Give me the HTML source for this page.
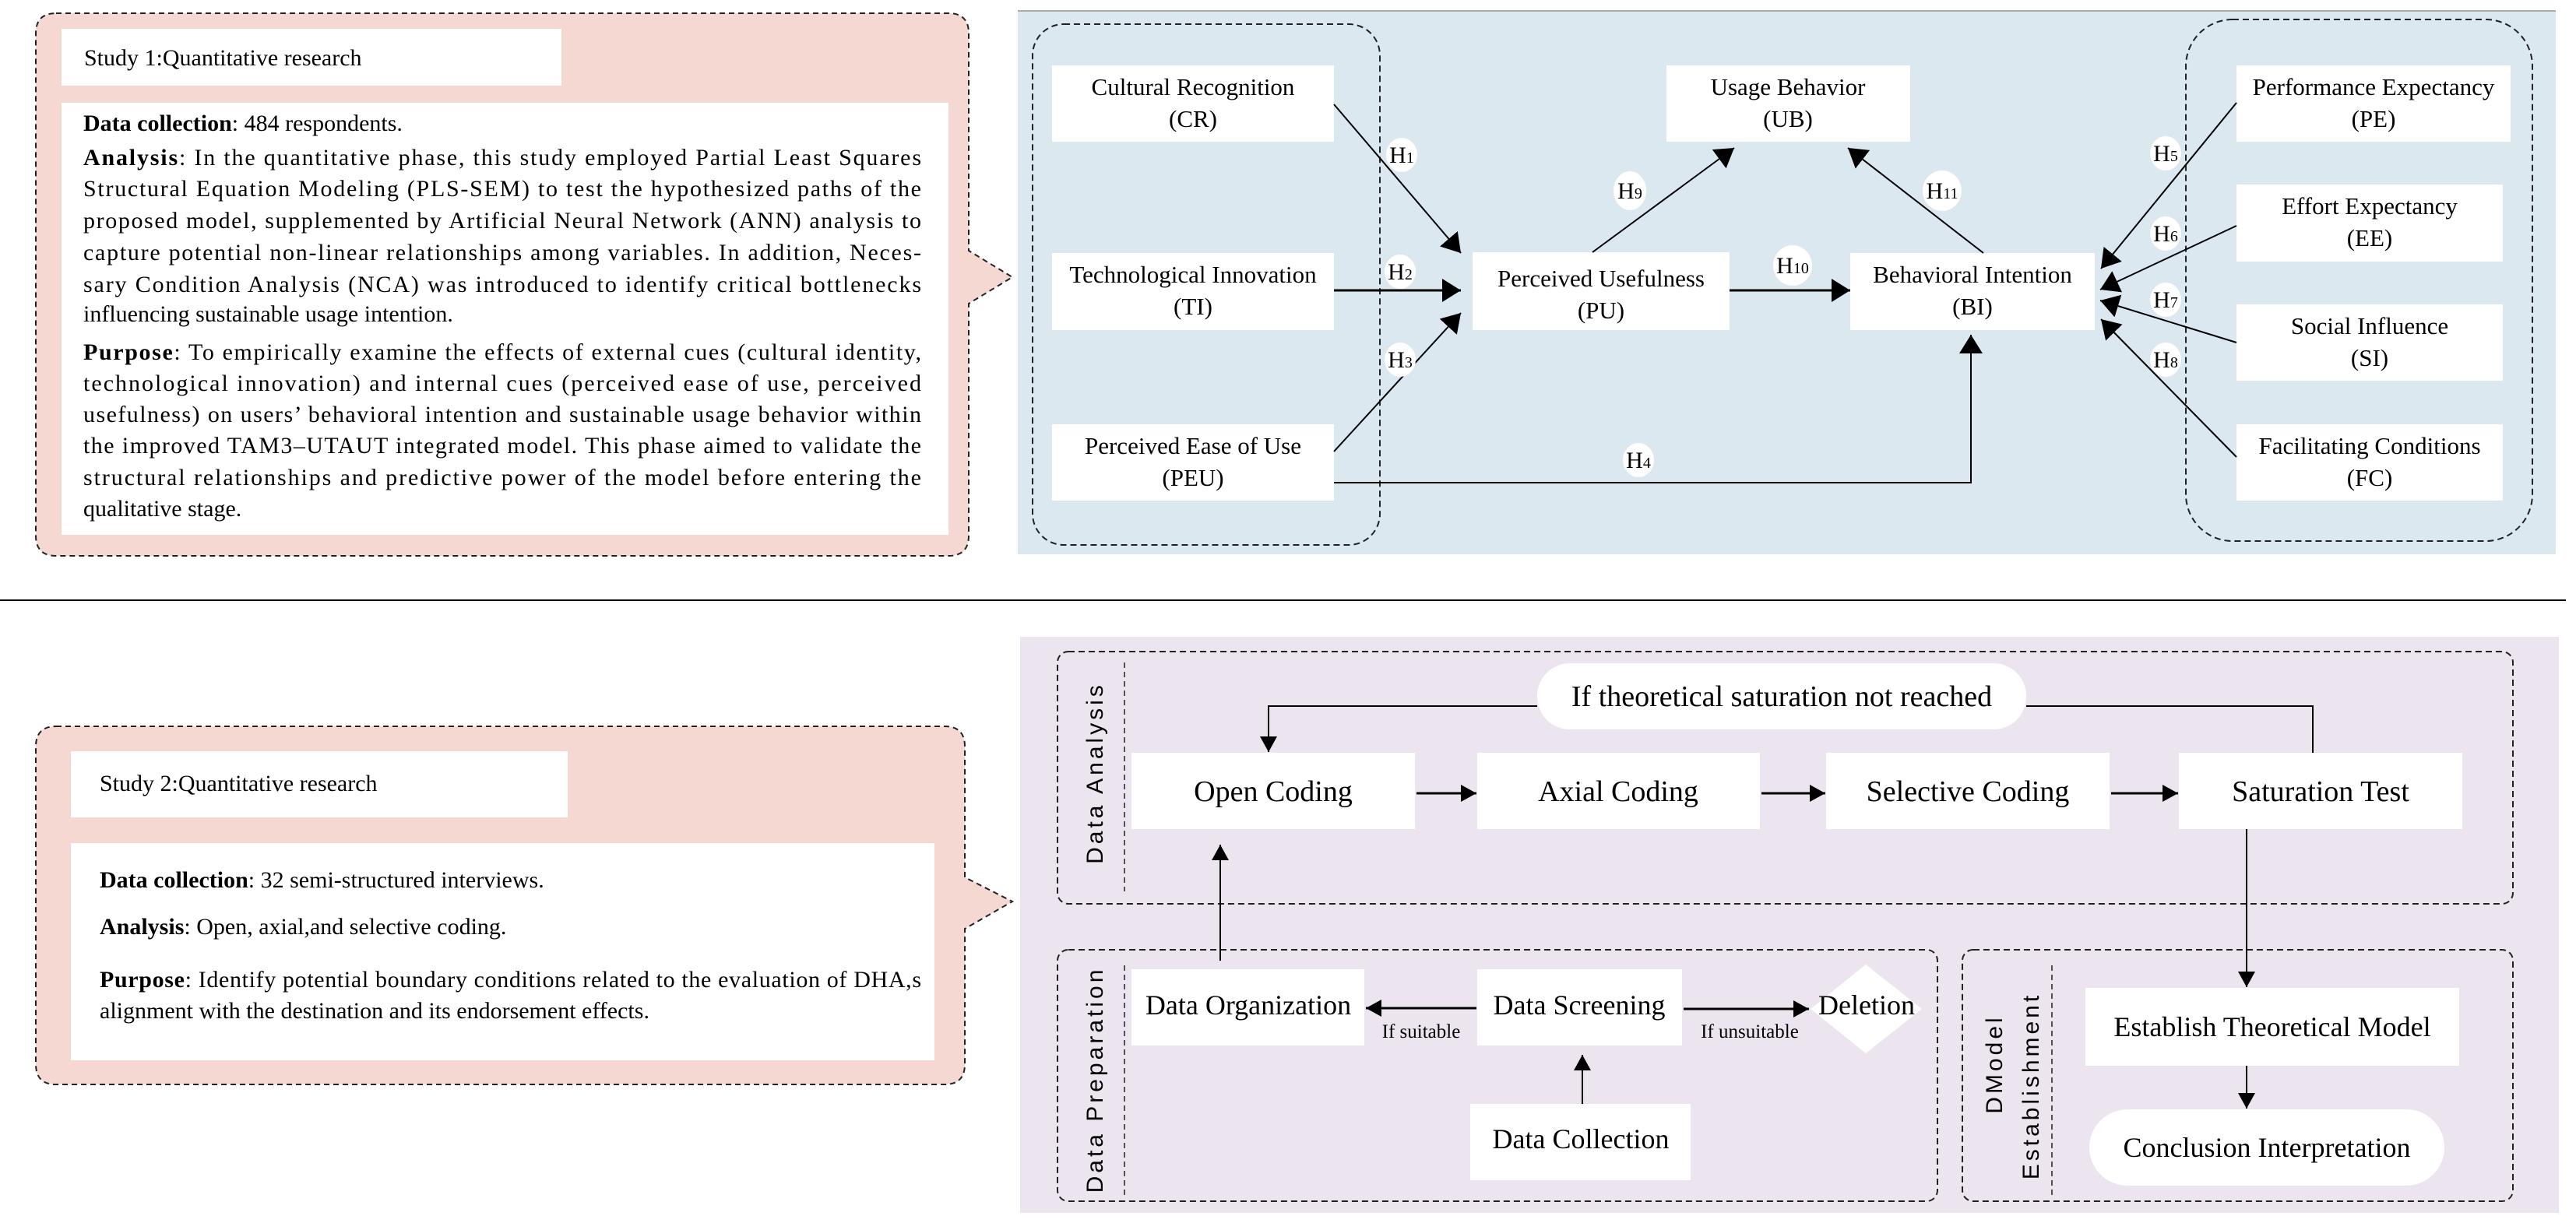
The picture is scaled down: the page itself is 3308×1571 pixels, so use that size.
<!DOCTYPE html>
<html><head><meta charset="utf-8"><style>
html,body{margin:0;padding:0;background:#fff;width:3308px;height:1571px;overflow:hidden}
svg{display:block}
svg text{font-family:"Liberation Serif","Times New Roman",serif;fill:#000}
svg text.s{font-family:"Liberation Sans",sans-serif;font-size:30px;letter-spacing:4px}
</style></head><body>
<svg width="3308" height="1571" viewBox="0 0 3308 1571" xmlns="http://www.w3.org/2000/svg" font-family="Liberation Serif, serif">
<defs>
<marker id="a" viewBox="0 0 24 30" refX="24" refY="15" markerWidth="24" markerHeight="30" markerUnits="userSpaceOnUse" orient="auto"><path d="M0,0 L24,15 L0,30 z" fill="#000"/></marker>
<marker id="m" viewBox="0 0 20 22" refX="20" refY="11" markerWidth="20" markerHeight="22" markerUnits="userSpaceOnUse" orient="auto"><path d="M0,0 L20,11 L0,22 z" fill="#000"/></marker>
</defs>

<!-- Study 1 pink -->
<path d="M72,17 H1218 Q1244,17 1244,43 V322 L1300,356 L1244,390 V688 Q1244,714 1218,714 H72 Q46,714 46,688 V43 Q46,17 72,17 Z" fill="#f6d8d2" stroke="#222" stroke-width="2" stroke-dasharray="7,5"/>
<rect x="79" y="37" width="642" height="73" fill="#fff"/>
<text x="108" y="84" font-size="30">Study 1:Quantitative research</text>
<rect x="79" y="132" width="1139" height="555" fill="#fff"/>
<g font-size="30">
<text x="107" y="168"><tspan font-weight="bold">Data collection</tspan>: 484 respondents.</text>
<text x="107" y="212" textLength="1076" lengthAdjust="spacing"><tspan font-weight="bold">Analysis</tspan>: In the quantitative phase, this study employed Partial Least Squares</text>
<text x="107" y="252" textLength="1076" lengthAdjust="spacing">Structural Equation Modeling (PLS-SEM) to test the hypothesized paths of the</text>
<text x="107" y="293" textLength="1076" lengthAdjust="spacing">proposed model, supplemented by Artificial Neural Network (ANN) analysis to</text>
<text x="107" y="334" textLength="1076" lengthAdjust="spacing">capture potential non-linear relationships among variables. In addition, Neces-</text>
<text x="107" y="375" textLength="1076" lengthAdjust="spacing">sary Condition Analysis (NCA) was introduced to identify critical bottlenecks</text>
<text x="107" y="413">influencing sustainable usage intention.</text>
<text x="107" y="462" textLength="1076" lengthAdjust="spacing"><tspan font-weight="bold">Purpose</tspan>: To empirically examine the effects of external cues (cultural identity,</text>
<text x="107" y="502" textLength="1076" lengthAdjust="spacing">technological innovation) and internal cues (perceived ease of use, perceived</text>
<text x="107" y="542" textLength="1076" lengthAdjust="spacing">usefulness) on users’ behavioral intention and sustainable usage behavior within</text>
<text x="107" y="582" textLength="1076" lengthAdjust="spacing">the improved TAM3–UTAUT integrated model. This phase aimed to validate the</text>
<text x="107" y="623" textLength="1076" lengthAdjust="spacing">structural relationships and predictive power of the model before entering the</text>
<text x="107" y="663">qualitative stage.</text>
</g>

<!-- Blue panel -->
<rect x="1307" y="14" width="1975" height="698" fill="#dce8f0"/>
<line x1="1307" y1="14" x2="3282" y2="14" stroke="#aaa" stroke-width="2"/>
<rect x="1326" y="31" width="446" height="669" rx="40" fill="none" stroke="#222" stroke-width="2" stroke-dasharray="8,5"/>
<rect x="2807" y="25" width="445" height="670" rx="60" fill="none" stroke="#222" stroke-width="2" stroke-dasharray="8,5"/>

<g fill="#fff">
<rect x="1351" y="84" width="362" height="98"/>
<rect x="1351" y="325" width="362" height="99"/>
<rect x="1351" y="545" width="362" height="98"/>
<rect x="2140" y="84" width="313" height="98"/>
<rect x="1891" y="324" width="330" height="100"/>
<rect x="2376" y="325" width="314" height="99"/>
<rect x="2872" y="84" width="352" height="98"/>
<rect x="2872" y="237" width="342" height="99"/>
<rect x="2872" y="391" width="342" height="98"/>
<rect x="2872" y="545" width="342" height="98"/>
</g>
<g font-size="31" text-anchor="middle">
<text x="1532" y="122">Cultural Recognition</text><text x="1532" y="163">(CR)</text>
<text x="1532" y="363">Technological Innovation</text><text x="1532" y="404">(TI)</text>
<text x="1532" y="583">Perceived Ease of Use</text><text x="1532" y="624">(PEU)</text>
<text x="2296" y="122">Usage Behavior</text><text x="2296" y="163">(UB)</text>
<text x="2056" y="368">Perceived Usefulness</text><text x="2056" y="409">(PU)</text>
<text x="2533" y="363">Behavioral Intention</text><text x="2533" y="404">(BI)</text>
<text x="3048" y="122">Performance Expectancy</text><text x="3048" y="163">(PE)</text>
<text x="3043" y="275">Effort Expectancy</text><text x="3043" y="316">(EE)</text>
<text x="3043" y="429">Social Influence</text><text x="3043" y="470">(SI)</text>
<text x="3043" y="583">Facilitating Conditions</text><text x="3043" y="624">(FC)</text>
</g>

<g stroke="#000" stroke-width="2" fill="none">
<line x1="1713" y1="134" x2="1876" y2="325" marker-end="url(#a)"/>
<line x1="1713" y1="373" x2="1876" y2="373" stroke-width="3" marker-end="url(#a)"/>
<line x1="1713" y1="580" x2="1876" y2="402" marker-end="url(#a)"/>
<polyline points="1713,620 2531,620 2531,430" marker-end="url(#a)"/>
<line x1="2045" y1="324" x2="2227" y2="190" marker-end="url(#a)"/>
<line x1="2221" y1="373" x2="2376" y2="373" stroke-width="3" marker-end="url(#a)"/>
<line x1="2547" y1="325" x2="2373" y2="190" marker-end="url(#a)"/>
<line x1="2872" y1="132" x2="2698" y2="345" marker-end="url(#a)"/>
<line x1="2872" y1="290" x2="2697" y2="372" marker-end="url(#a)"/>
<line x1="2872" y1="440" x2="2697" y2="386" marker-end="url(#a)"/>
<line x1="2872" y1="587" x2="2698" y2="410" marker-end="url(#a)"/>
</g>
<g fill="#fff">
<ellipse cx="1800" cy="199" rx="20" ry="22"/>
<ellipse cx="1798" cy="349" rx="20" ry="22"/>
<ellipse cx="1798" cy="462" rx="20" ry="22"/>
<ellipse cx="2104" cy="591" rx="20" ry="22"/>
<ellipse cx="2093" cy="245" rx="21" ry="25"/>
<ellipse cx="2302" cy="341" rx="25" ry="26"/>
<ellipse cx="2494" cy="245" rx="25" ry="26"/>
<ellipse cx="2781" cy="197" rx="20" ry="22"/>
<ellipse cx="2781" cy="300" rx="20" ry="22"/>
<ellipse cx="2781" cy="385" rx="20" ry="22"/>
<ellipse cx="2781" cy="462" rx="20" ry="22"/>
</g>
<g font-size="30" text-anchor="middle">
<text x="1800" y="209">H<tspan font-size="20">1</tspan></text>
<text x="1798" y="359">H<tspan font-size="20">2</tspan></text>
<text x="1798" y="472">H<tspan font-size="20">3</tspan></text>
<text x="2104" y="601">H<tspan font-size="20">4</tspan></text>
<text x="2093" y="255">H<tspan font-size="20">9</tspan></text>
<text x="2302" y="351">H<tspan font-size="20">10</tspan></text>
<text x="2494" y="255">H<tspan font-size="20">11</tspan></text>
<text x="2781" y="207">H<tspan font-size="20">5</tspan></text>
<text x="2781" y="310">H<tspan font-size="20">6</tspan></text>
<text x="2781" y="395">H<tspan font-size="20">7</tspan></text>
<text x="2781" y="472">H<tspan font-size="20">8</tspan></text>
</g>

<!-- separator -->
<line x1="0" y1="771" x2="3295" y2="771" stroke="#000" stroke-width="2"/>

<!-- Study 2 pink -->
<path d="M72,933 H1213 Q1239,933 1239,959 V1127 L1300,1158 L1239,1193 V1367 Q1239,1393 1213,1393 H72 Q46,1393 46,1367 V959 Q46,933 72,933 Z" fill="#f6d8d2" stroke="#222" stroke-width="2" stroke-dasharray="7,5"/>
<rect x="91" y="965" width="638" height="85" fill="#fff"/>
<text x="128" y="1016" font-size="30">Study 2:Quantitative research</text>
<rect x="91" y="1083" width="1109" height="279" fill="#fff"/>
<g font-size="30">
<text x="128" y="1140"><tspan font-weight="bold">Data collection</tspan>: 32 semi-structured interviews.</text>
<text x="128" y="1200"><tspan font-weight="bold">Analysis</tspan>: Open, axial,and selective coding.</text>
<text x="128" y="1268" textLength="1055" lengthAdjust="spacing"><tspan font-weight="bold">Purpose</tspan>: Identify potential boundary conditions related to the evaluation of DHA,s</text>
<text x="128" y="1308">alignment with the destination and its endorsement effects.</text>
</g>

<!-- Purple panel -->
<rect x="1310" y="818" width="1976" height="740" fill="#ece4ef"/>
<rect x="1358" y="837" width="1869" height="324" rx="14" fill="none" stroke="#222" stroke-width="2" stroke-dasharray="8,5"/>
<rect x="1358" y="1220" width="1130" height="323" rx="14" fill="none" stroke="#222" stroke-width="2" stroke-dasharray="8,5"/>
<rect x="2520" y="1220" width="707" height="323" rx="14" fill="none" stroke="#222" stroke-width="2" stroke-dasharray="8,5"/>
<g stroke="#222" stroke-width="1.5" stroke-dasharray="7,5">
<line x1="1444" y1="851" x2="1444" y2="1145"/>
<line x1="1444" y1="1240" x2="1444" y2="1535"/>
<line x1="2635" y1="1240" x2="2635" y2="1535"/>
</g>
<text class="s" transform="translate(1416,993) rotate(-90)" text-anchor="middle">Data Analysis</text>
<text class="s" transform="translate(1416,1387) rotate(-90)" text-anchor="middle">Data Preparation</text>
<text class="s" transform="translate(2571,1367) rotate(-90)" text-anchor="middle">DModel</text>
<text class="s" transform="translate(2618,1395) rotate(-90)" text-anchor="middle">Establishment</text>

<g fill="#fff">
<rect x="1974" y="852" width="628" height="85" rx="42"/>
<rect x="1453" y="967" width="364" height="98"/>
<rect x="1897" y="967" width="363" height="98"/>
<rect x="2345" y="967" width="364" height="98"/>
<rect x="2798" y="967" width="364" height="98"/>
<rect x="1453" y="1245" width="299" height="98"/>
<rect x="1897" y="1245" width="263" height="98"/>
<polygon points="2396,1239 2468,1296 2396,1353 2325,1296"/>
<rect x="1888" y="1418" width="283" height="98"/>
<rect x="2678" y="1269" width="480" height="100"/>
<rect x="2683" y="1425" width="456" height="98" rx="49"/>
</g>
<g font-size="38" text-anchor="middle">
<text x="2288" y="907" font-size="38">If theoretical saturation not reached</text>
<text x="1635" y="1029">Open Coding</text>
<text x="2078" y="1029">Axial Coding</text>
<text x="2527" y="1029">Selective Coding</text>
<text x="2980" y="1029">Saturation Test</text>
<text x="1603" y="1303" font-size="36">Data Organization</text>
<text x="2028" y="1303" font-size="36">Data Screening</text>
<text x="2397" y="1303" font-size="36">Deletion</text>
<text x="2030" y="1475" font-size="36">Data Collection</text>
<text x="2918" y="1331" font-size="36">Establish Theoretical Model</text>
<text x="2911" y="1486" font-size="36">Conclusion Interpretation</text>
</g>
<g font-size="25" text-anchor="middle">
<text x="1825" y="1333">If suitable</text>
<text x="2247" y="1333">If unsuitable</text>
</g>
<g stroke="#000" stroke-width="2" fill="none">
<polyline points="2970,967 2970,907 2602,907"/>
<polyline points="1974,907 1629,907 1629,966" marker-end="url(#m)"/>
<line x1="1819" y1="1019" x2="1896" y2="1019" stroke-width="3" marker-end="url(#m)"/>
<line x1="2262" y1="1019" x2="2344" y2="1019" stroke-width="3" marker-end="url(#m)"/>
<line x1="2711" y1="1019" x2="2797" y2="1019" stroke-width="3" marker-end="url(#m)"/>
<line x1="1567" y1="1234" x2="1567" y2="1085" marker-end="url(#m)"/>
<line x1="1896" y1="1295" x2="1754" y2="1295" stroke-width="3" marker-end="url(#m)"/>
<line x1="2162" y1="1296" x2="2323" y2="1296" stroke-width="3" marker-end="url(#m)"/>
<line x1="2032" y1="1418" x2="2032" y2="1355" marker-end="url(#m)"/>
<line x1="2885" y1="1065" x2="2885" y2="1268" marker-end="url(#m)"/>
<line x1="2885" y1="1369" x2="2885" y2="1424" marker-end="url(#m)"/>
</g>
</svg>
</body></html>
